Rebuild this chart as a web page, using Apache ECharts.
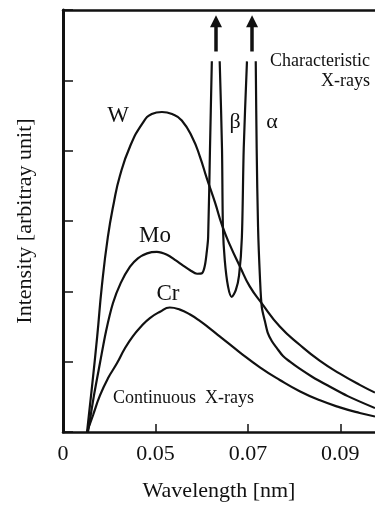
<!DOCTYPE html>
<html>
<head>
<meta charset="utf-8">
<script src="https://cdn.jsdelivr.net/npm/echarts@6/dist/echarts.min.js"></script>
<style>
  html, body { margin: 0; padding: 0; background: #fff; }
  #chart { width: 375px; height: 507px; }
</style>
</head>
<body>
<div id="chart"></div>
<script>
// X-ray spectra: intensity vs wavelength (nm) for W, Mo and Cr targets.
const xTicks = [0.03, 0.05, 0.07, 0.09];   // tick positions; the origin is labelled "0"

// Continuous spectrum of the W target
const wCurve = [
  [0.0352, 0], [0.0363, 0.66], [0.0374, 1.36], [0.0384, 2.07], [0.0397, 2.77],
  [0.0410, 3.26], [0.0423, 3.64], [0.0445, 4.06], [0.0473, 4.40], [0.0492, 4.52],
  [0.0514, 4.55], [0.0536, 4.52], [0.0557, 4.43], [0.0581, 4.17], [0.0596, 3.92],
  [0.0611, 3.61], [0.0629, 3.26], [0.0644, 2.94], [0.0661, 2.66], [0.0683, 2.35],
  [0.0704, 2.07], [0.0730, 1.83], [0.0769, 1.50], [0.0812, 1.24], [0.0856, 1.01],
  [0.0899, 0.83], [0.0942, 0.67], [0.0975, 0.56]
];

// Continuous spectrum of the Cr target
const crCurve = [
  [0.0352, 0], [0.0365, 0.24], [0.0380, 0.52], [0.0397, 0.76], [0.0417, 0.98],
  [0.0434, 1.19], [0.0451, 1.36], [0.0469, 1.50], [0.0488, 1.62], [0.0510, 1.71],
  [0.0531, 1.77], [0.0553, 1.74], [0.0575, 1.67], [0.0596, 1.58], [0.0618, 1.47],
  [0.0639, 1.36], [0.0683, 1.13], [0.0726, 0.92], [0.0769, 0.74], [0.0812, 0.58],
  [0.0856, 0.45], [0.0899, 0.35], [0.0942, 0.27], [0.0975, 0.22]
];

// Mo target: continuum up to the K-beta line (peak runs off scale)
const moToBeta = [
  [0.0354, 0], [0.0367, 0.52], [0.0380, 0.98], [0.0393, 1.43], [0.0408, 1.83],
  [0.0425, 2.12], [0.0445, 2.35], [0.0462, 2.47], [0.0482, 2.54], [0.0503, 2.56],
  [0.0525, 2.52], [0.0544, 2.44], [0.0559, 2.37], [0.0575, 2.30], [0.0590, 2.25],
  [0.0601, 2.26], [0.0607, 2.37], [0.0611, 2.56], [0.0614, 2.77], [0.0618, 4.03],
  [0.0622, 5.27]
];
// Mo target: between the K-beta and K-alpha lines
const moBetaToAlpha = [
  [0.0639, 5.27], [0.0644, 4.03], [0.0646, 2.91], [0.0650, 2.44], [0.0657, 2.07],
  [0.0665, 1.92], [0.0674, 2.02], [0.0681, 2.23], [0.0687, 2.77], [0.0691, 4.03],
  [0.0698, 5.27]
];
// Mo target: tail after the K-alpha line
const moAfterAlpha = [
  [0.0717, 5.27], [0.0719, 4.03], [0.0722, 2.91], [0.0726, 2.21], [0.0730, 1.78],
  [0.0737, 1.57], [0.0743, 1.41], [0.0752, 1.29], [0.0763, 1.19], [0.0776, 1.08],
  [0.0791, 1.00], [0.0812, 0.90], [0.0838, 0.79], [0.0873, 0.66], [0.0916, 0.51],
  [0.0975, 0.34]
];

// Off-scale markers above the two characteristic lines: [x, yStart, yEnd]
const lineArrows = [
  [0.0631, 5.41, 5.84],
  [0.0709, 5.41, 5.84]
];

const INK = '#111';
const SERIF = '"Liberation Serif", "DejaVu Serif", serif';

function curve(name, data, smooth) {
  return {
    name: name,
    type: 'line',
    data: data,
    showSymbol: false,
    smooth: smooth,
    lineStyle: { color: INK, width: 2.2 },
    silent: true,
    z: 3
  };
}

const chart = echarts.init(document.getElementById('chart'), null, { renderer: 'canvas' });

const axisX = {
  type: 'value',
  min: 0.03,
  max: 0.0975,
  interval: 0.02,
  axisLine: { show: true, onZero: false, lineStyle: { color: INK, width: 2.5 } },
  axisTick: { show: true, inside: true, length: 8, lineStyle: { color: INK, width: 1.5 } },
  splitLine: { show: false },
  axisLabel: {
    show: true,
    margin: 11,
    showMaxLabel: false,
    color: INK,
    fontFamily: SERIF,
    fontSize: 22,
    formatter: function (v) {
      for (const t of xTicks) {
        if (Math.abs(v - t) < 1e-6) return t === xTicks[0] ? '0' : t.toFixed(2);
      }
      return '';
    }
  },
  name: 'Wavelength [nm]',
  nameLocation: 'middle',
  nameGap: 48,
  nameTextStyle: { color: INK, fontFamily: SERIF, fontSize: 22 }
};

const option = {
  animation: false,
  backgroundColor: '#fff',
  grid: { left: 63, right: 0, top: 10, bottom: 70, containLabel: false },
  xAxis: [
    axisX,
    {
      type: 'value', position: 'top', min: 0.03, max: 0.0975,
      axisLine: { show: true, onZero: false, lineStyle: { color: INK, width: 2.5 } },
      axisTick: { show: false }, axisLabel: { show: false }, splitLine: { show: false }
    }
  ],
  yAxis: {
    type: 'value',
    min: 0,
    max: 6,
    interval: 1,
    axisLine: { show: true, onZero: false, lineStyle: { color: INK, width: 3 } },
    axisTick: { show: true, inside: true, length: 10, lineStyle: { color: INK, width: 1.5 } },
    axisLabel: { show: false },
    splitLine: { show: false },
    name: 'Intensity [arbitray unit]',
    nameLocation: 'middle',
    nameGap: 27,
    nameTextStyle: { color: INK, fontFamily: SERIF, fontSize: 22 }
  },
  series: [
    curve('W', wCurve, 0.5),
    curve('Cr', crCurve, 0.5),
    curve('Mo', moToBeta, 0.3),
    curve('Mo', moBetaToAlpha, 0.3),
    curve('Mo', moAfterAlpha, 0.3),
    {
      type: 'line',
      data: [],
      silent: true,
      markLine: {
        silent: true,
        symbol: ['none', 'triangle'],
        symbolSize: 12,
        label: { show: false },
        lineStyle: { color: INK, width: 3.5, type: 'solid' },
        data: lineArrows.map(a => [{ coord: [a[0], a[1]] }, { coord: [a[0], a[2]] }])
      }
    }
  ],
  graphic: [
    { type: 'text', style: { text: 'W', x: 118, y: 116, align: 'center', verticalAlign: 'middle', fill: INK, font: '23px ' + SERIF } },
    { type: 'text', style: { text: 'Mo', x: 155, y: 236, align: 'center', verticalAlign: 'middle', fill: INK, font: '23px ' + SERIF } },
    { type: 'text', style: { text: 'Cr', x: 168, y: 294, align: 'center', verticalAlign: 'middle', fill: INK, font: '23px ' + SERIF } },
    { type: 'text', style: { text: 'β', x: 235, y: 122, align: 'center', verticalAlign: 'middle', fill: INK, font: '22px ' + SERIF } },
    { type: 'text', style: { text: 'α', x: 272, y: 122, align: 'center', verticalAlign: 'middle', fill: INK, font: '22px ' + SERIF } },
    { type: 'text', style: { text: 'Characteristic', x: 370, y: 61, align: 'right', verticalAlign: 'middle', fill: INK, font: '18px ' + SERIF } },
    { type: 'text', style: { text: 'X-rays', x: 370, y: 81, align: 'right', verticalAlign: 'middle', fill: INK, font: '18px ' + SERIF } },
    { type: 'text', style: { text: 'Continuous  X-rays', x: 113, y: 398, align: 'left', verticalAlign: 'middle', fill: INK, font: '18px ' + SERIF } }
  ]
};

chart.setOption(option);
</script>
</body>
</html>
